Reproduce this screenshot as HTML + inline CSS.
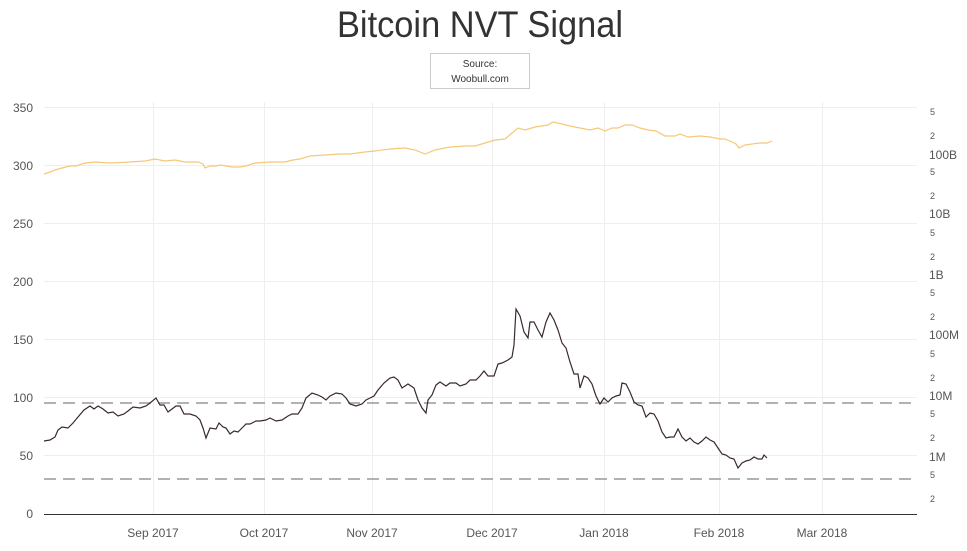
<!DOCTYPE html>
<html><head><meta charset="utf-8"><style>
html,body{margin:0;padding:0;background:#fff;width:967px;height:551px;overflow:hidden}
svg text{font-family:"Liberation Sans",sans-serif}
</style></head><body>
<svg width="967" height="551" xmlns="http://www.w3.org/2000/svg">
<text x="480" y="37" text-anchor="middle" font-size="37" fill="#333" textLength="286" lengthAdjust="spacingAndGlyphs">Bitcoin NVT Signal</text>
<rect x="430.5" y="53.5" width="99" height="35" fill="#fff" stroke="#ccc"/>
<text x="480" y="67" text-anchor="middle" font-size="10" fill="#333">Source:</text>
<text x="480" y="82" text-anchor="middle" font-size="10" fill="#333">Woobull.com</text>
<g stroke="#eee" stroke-width="1">
<line x1="44" x2="917" y1="107.5" y2="107.5"/><line x1="44" x2="917" y1="165.5" y2="165.5"/>
<line x1="44" x2="917" y1="223.5" y2="223.5"/><line x1="44" x2="917" y1="281.5" y2="281.5"/>
<line x1="44" x2="917" y1="339.5" y2="339.5"/><line x1="44" x2="917" y1="397.5" y2="397.5"/>
<line x1="44" x2="917" y1="455.5" y2="455.5"/>
<line x1="153.5" x2="153.5" y1="102" y2="514"/><line x1="264.5" x2="264.5" y1="102" y2="514"/>
<line x1="372.5" x2="372.5" y1="102" y2="514"/><line x1="492.5" x2="492.5" y1="102" y2="514"/>
<line x1="604.5" x2="604.5" y1="102" y2="514"/><line x1="719.5" x2="719.5" y1="102" y2="514"/>
<line x1="822.5" x2="822.5" y1="102" y2="514"/>
</g>
<line x1="44" x2="917" y1="514.5" y2="514.5" stroke="#333"/>
<g stroke="#999" stroke-width="1.5" stroke-dasharray="12,7">
<line x1="44" x2="917" y1="403" y2="403"/><line x1="44" x2="917" y1="479" y2="479"/>
</g>
<g font-size="12" fill="#555" text-anchor="end">
<text x="33" y="112">350</text><text x="33" y="170">300</text><text x="33" y="228">250</text>
<text x="33" y="286">200</text><text x="33" y="344">150</text><text x="33" y="402">100</text>
<text x="33" y="460">50</text><text x="33" y="518">0</text>
</g>
<g font-size="12" fill="#555" text-anchor="middle">
<text x="153" y="537">Sep 2017</text><text x="264" y="537">Oct 2017</text><text x="372" y="537">Nov 2017</text>
<text x="492" y="537">Dec 2017</text><text x="604" y="537">Jan 2018</text><text x="719" y="537">Feb 2018</text>
<text x="822" y="537">Mar 2018</text>
</g>
<g font-size="9" fill="#555">
<text x="930" y="115">5</text><text x="930" y="139">2</text><text x="930" y="175">5</text><text x="930" y="199">2</text>
<text x="930" y="236">5</text><text x="930" y="260">2</text><text x="930" y="296">5</text><text x="930" y="320">2</text>
<text x="930" y="357">5</text><text x="930" y="381">2</text><text x="930" y="417">5</text><text x="930" y="441">2</text>
<text x="930" y="478">5</text><text x="930" y="502">2</text>
</g>
<g font-size="12" fill="#555">
<text x="929" y="159">100B</text><text x="929" y="218">10B</text><text x="929" y="279">1B</text>
<text x="929" y="339">100M</text><text x="929" y="400">10M</text><text x="929" y="461">1M</text>
</g>
<polyline fill="none" stroke="#f5c878" stroke-width="1.2" points="44,174 50,172 55,170 62,168 70,166 76,166 85,163 95,162 110,163 130,162 145,161 155,159 165,161 175,160 185,162 198,162 203,164 205,168 210,166 216,166 220,165 226,166 232,167 240,167 246,166 255,163 270,162 285,162 293,160 300,159 310,156 325,155 340,154 350,154 365,152 375,151 390,149 405,148 415,150 425,154 435,150 450,147 465,146 475,146 485,143 495,140 505,139 512,133 518,128 525,130 535,127 548,125 553,122 562,124 570,126 580,128 590,130 598,128 605,131 612,128 618,128 625,125 632,125 640,128 648,130 656,131 665,136 675,136 680,134 688,137 700,136 710,137 720,139 725,139 732,142 736,144 739,148 745,145 752,144 760,143 767,143 772,141"/>
<polyline fill="none" stroke="#3a2a2a" stroke-width="1.2" points="44,441 50,440 55,437 58,430 62,427 68,428 73,423 78,417 84,410 90,406 94,409 98,406 103,409 108,413 113,412 118,416 124,414 128,411 133,407 140,408 146,406 150,403 156,398 160,405 164,405 168,412 172,409 176,406 180,406 184,414 190,414 196,416 200,420 203,428 206,438 210,428 216,429 219,423 223,427 226,428 230,434 234,431 238,432 242,428 246,424 250,424 256,421 260,421 266,420 270,418 276,421 282,420 288,416 292,414 298,414 302,408 306,398 312,393 318,395 322,397 326,400 330,396 336,393 342,394 346,398 350,404 356,406 362,404 366,400 370,398 374,396 378,390 384,383 390,378 394,377 398,380 402,388 408,384 414,388 418,400 422,408 426,413 428,400 432,395 436,385 440,382 446,386 450,383 456,383 460,386 466,384 470,380 476,380 480,376 484,371 488,376 494,376 498,364 502,363 508,360 512,357 514,345 516,309 520,316 524,332 528,338 530,322 534,322 538,330 542,337 546,322 550,313 554,320 558,330 562,343 566,348 570,362 574,374 578,374 580,388 584,376 588,378 592,384 596,396 600,404 604,398 608,402 612,398 616,396 620,395 622,383 626,384 630,392 634,402 638,405 642,406 646,417 650,413 654,414 658,421 662,432 666,438 670,437 674,437 678,429 682,437 686,441 690,438 694,442 698,444 702,441 706,437 710,440 714,442 718,448 722,454 726,455 730,458 734,459 738,468 742,463 746,461 750,460 754,457 758,459 762,459 764,455 767,458"/>
</svg>
</body></html>
